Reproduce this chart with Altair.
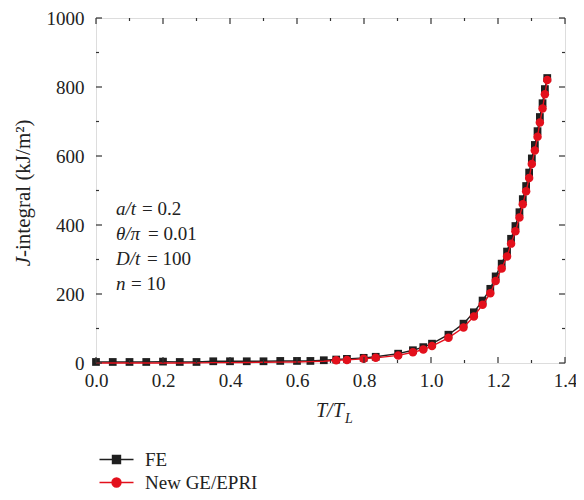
import altair as alt
import pandas as pd

# ---- data ----
fe_x = [0.0, 0.05, 0.10, 0.15, 0.20, 0.25, 0.30, 0.35, 0.40, 0.45, 0.50, 0.55, 0.60, 0.64, 0.68,
        0.717, 0.749, 0.799, 0.835, 0.902, 0.946, 0.977, 1.003, 1.052, 1.097, 1.128, 1.154, 1.177,
        1.193, 1.211, 1.227, 1.239, 1.252, 1.264, 1.274, 1.284, 1.293, 1.301, 1.310, 1.318, 1.325,
        1.333, 1.340, 1.347]
fe_y = [3, 3, 3, 3, 4, 3, 3, 5, 5, 5, 5, 6, 6, 6, 8,
        10, 12, 15, 18, 27, 37, 46, 56, 82, 114, 147, 181, 215,
        251, 288, 323, 360, 397, 437, 475, 513, 552, 593, 632, 672, 713,
        753, 794, 826]

ge_x = [0.0, 0.05, 0.10, 0.15, 0.20, 0.25, 0.30, 0.35, 0.40, 0.45, 0.50, 0.55, 0.60, 0.64, 0.68,
        0.717, 0.749, 0.799, 0.835, 0.902, 0.946, 0.977, 1.003, 1.052, 1.097, 1.128, 1.154, 1.177,
        1.193, 1.211, 1.227, 1.239, 1.252, 1.264, 1.274, 1.284, 1.293, 1.301, 1.310, 1.318, 1.325,
        1.333, 1.340, 1.347]
ge_y = [0, 0, 0, 0, 0, 0, 0.5, 1, 1, 1.5, 2, 2.5, 3, 4, 5,
        8, 9, 12, 15, 22, 31, 39, 49, 73, 103, 135, 169, 202,
        238, 274, 309, 346, 382, 422, 460, 498, 536, 577, 616, 656, 697,
        738, 779, 820]
ge_marker_start = 0.7

series_names = ["FE", "New GE/EPRI"]
series_colors = ["#1f1f1f", "#e3101c"]

x_major = [0.0, 0.2, 0.4, 0.6, 0.8, 1.0, 1.2, 1.4]
x_minor = [0.1, 0.3, 0.5, 0.7, 0.9, 1.1, 1.3]
y_major = [0, 200, 400, 600, 800, 1000]
y_minor = [100, 300, 500, 700, 900]

notes_var = ["a/t", "θ/π", "D/t", "n"]
notes_val = ["= 0.2", "= 0.01", "= 100", "= 10"]

W, H = 469, 345
FONT = "Liberation Serif"
TICK = "#333333"

fe = pd.DataFrame({"x": fe_x, "y": fe_y})
ge = pd.DataFrame({"x": ge_x, "y": ge_y})

xs = alt.Scale(domain=[0, 1.4], nice=False, zero=False)
ys = alt.Scale(domain=[0, 1000], nice=False, zero=False)

fe_line = alt.Chart(fe).mark_line(color=series_colors[0], strokeWidth=1.4).encode(
    x=alt.X("x:Q", scale=xs, axis=alt.Axis(orient="bottom", values=x_major, ticks=False, domain=False,
                                            grid=False, title=None, format=".1f", labelFont=FONT,
                                            labelFontSize=19, labelColor="#222", labelPadding=8,
                                            labelFlush=False)),
    y=alt.Y("y:Q", scale=ys, axis=alt.Axis(orient="left", values=y_major, ticks=False, domain=False,
                                            grid=False, title=None, format="d", labelFont=FONT,
                                            labelFontSize=19, labelColor="#222", labelPadding=12)),
)
fe_pts = alt.Chart(fe).mark_point(shape="square", filled=True, opacity=1, size=60,
                                   color=series_colors[0]).encode(
    x=alt.X("x:Q", scale=xs, axis=None), y=alt.Y("y:Q", scale=ys, axis=None))
ge_line = alt.Chart(ge).mark_line(color=series_colors[1], strokeWidth=1.4).encode(
    x=alt.X("x:Q", scale=xs, axis=None), y=alt.Y("y:Q", scale=ys, axis=None))
ge_pts = alt.Chart(ge).transform_filter(alt.datum.x >= ge_marker_start).mark_point(
    shape="circle", filled=True, opacity=1, size=72, color=series_colors[1]).encode(
    x=alt.X("x:Q", scale=xs, axis=None), y=alt.Y("y:Q", scale=ys, axis=None))

def xticks(vals, y0, y1):
    return alt.Chart(pd.DataFrame({"v": vals})).mark_rule(color=TICK, strokeWidth=1.2).encode(
        x=alt.X("v:Q", scale=xs, axis=None), y=alt.value(y0), y2=alt.value(y1))

def yticks(vals, x0, x1):
    return alt.Chart(pd.DataFrame({"v": vals})).mark_rule(color=TICK, strokeWidth=1.2).encode(
        y=alt.Y("v:Q", scale=ys, axis=None), x=alt.value(x0), x2=alt.value(x1))

ticks = [
    xticks(x_major, H, H - 6), xticks(x_minor, H, H - 3),
    xticks(x_major, 0, 6), xticks(x_minor, 0, 3),
    yticks(y_major, 0, 6), yticks(y_minor, 0, 3),
    yticks(y_major, W, W - 6), yticks(y_minor, W, W - 3),
]

leg_df = pd.DataFrame({"series": series_names, "x": [-1, -1], "y": [-100, -100]})
sq_path = "M-3.4,0H3.4M-0.8,-0.8H0.8V0.8H-0.8Z"
ci_path = "M-3.4,0H3.4M-0.9,0A0.9,0.9 0 1,0 0.9,0A0.9,0.9 0 1,0 -0.9,0Z"
legend_layer = alt.Chart(leg_df).mark_point(filled=True, opacity=1, size=100, clip=True,
                                             strokeWidth=1.4).encode(
    x=alt.X("x:Q", scale=xs, axis=None),
    y=alt.Y("y:Q", scale=ys, axis=None),
    color=alt.Color("series:N", scale=alt.Scale(domain=series_names, range=series_colors),
                    legend=alt.Legend(orient="none", legendX=11, legendY=432, title=None,
                                      labelFont=FONT, labelFontSize=19, labelColor="#222",
                                      labelOffset=19, rowPadding=3, padding=0,
                                      symbolSize=100, symbolStrokeWidth=1.4)),
    stroke=alt.Stroke("series:N", scale=alt.Scale(domain=series_names, range=series_colors)),
    shape=alt.Shape("series:N", scale=alt.Scale(domain=series_names, range=[sq_path, ci_path])),
)

def txt(s, x, y, size=19, italic=True, align="left", angle=None, baseline="alphabetic"):
    kw = dict(text=s, font=FONT, fontSize=size, fontStyle="italic" if italic else "normal",
              color="#222", align=align, baseline=baseline)
    if angle is not None:
        kw["angle"] = angle
    return alt.Chart(pd.DataFrame({"a": [0]})).mark_text(**kw).encode(
        x=alt.value(x), y=alt.value(y))

titles = [
    txt("T/T", 220, 399, size=20, italic=True),
    txt("L", 249, 405, size=14, italic=True),
    txt("J", -66, 239, size=21, italic=True, align="right", angle=270),
    txt("-integral (kJ/m²)", -66, 239, size=21, italic=False, align="left", angle=270),
]

note_layers = []
eq_dx = [26, 32, 31, 15]
for i, (v, t) in enumerate(zip(notes_var, notes_val)):
    yy = 197 + i * 25
    note_layers.append(txt(v, 20, yy, size=19, italic=True))
    note_layers.append(txt(t, 20 + eq_dx[i], yy, size=19, italic=False))

chart = alt.layer(fe_line, fe_pts, ge_line, ge_pts, legend_layer, *ticks, *titles, *note_layers
                  ).resolve_axis(x="independent", y="independent").properties(
    width=W, height=H, autosize=alt.AutoSizeParams(type="none"),
    padding={"left": 88, "top": 10, "right": 11, "bottom": 129},
).configure_view(stroke="#333", strokeWidth=1.5).configure(background="white")

chart.save("out.html", embed_options={"renderer": "svg", "actions": False})
